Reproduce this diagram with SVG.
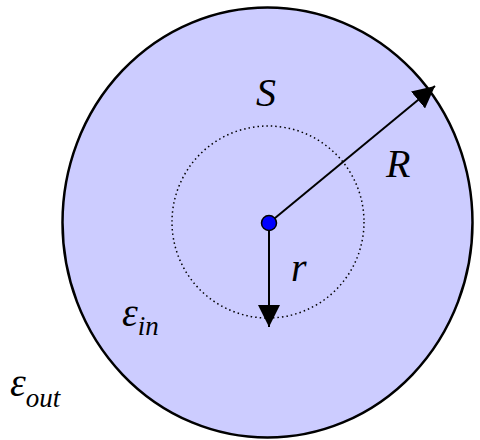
<svg xmlns="http://www.w3.org/2000/svg" width="480" height="440" viewBox="0 0 480 440">
<defs>
<marker id="ah" viewBox="0 0 10 10" refX="10" refY="5" markerWidth="22" markerHeight="22" markerUnits="userSpaceOnUse" orient="auto">
<path d="M0,0 L10,5 L0,10 z" fill="#000"/>
</marker>
<style>
.t{font-family:"Liberation Serif","Times New Roman",serif;font-style:italic;fill:#000;font-size:40px}
.s{font-size:27px}
</style>
</defs>
<rect width="480" height="440" fill="#fff"/>
<g id="outer"><ellipse cx="267.5" cy="222.5" rx="205" ry="215" fill="#ccccff" stroke="#000" stroke-width="2.5"/></g>
<g id="surface"><circle cx="268" cy="222" r="96" fill="none" stroke="#000" stroke-width="1.5" stroke-dasharray="1.5 3"/></g>
<g id="connectors">
<line x1="269" y1="223" x2="435" y2="86" stroke="#000" stroke-width="2" marker-end="url(#ah)"/>
<line x1="269" y1="223" x2="269" y2="327" stroke="#000" stroke-width="2" marker-end="url(#ah)"/>
</g>
<g id="center"><circle cx="269" cy="223" r="7.5" fill="#0000ff" stroke="#000" stroke-width="1.5"/></g>
<g id="labels">
<text class="t" x="256" y="106">S</text>
<text class="t" x="386" y="177">R</text>
<text class="t" x="291" y="281">r</text>
<text class="t" x="122" y="326">ε<tspan class="s" dy="9">in</tspan></text>
<text class="t" x="10" y="396">ε<tspan class="s" dy="11">out</tspan></text>
</g>
</svg>
